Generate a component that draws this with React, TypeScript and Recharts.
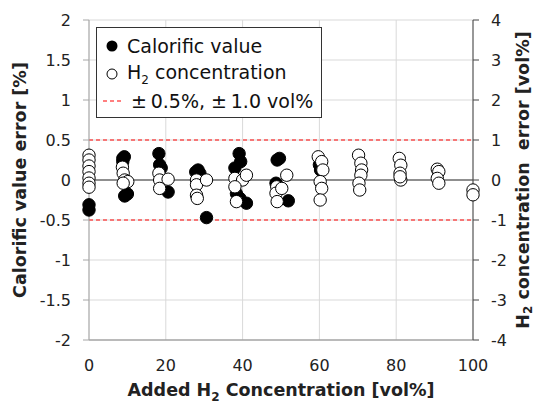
import React from "react"
import {
  ScatterChart,
  Scatter,
  XAxis,
  YAxis,
  CartesianGrid,
  ReferenceLine,
} from "recharts"

// Added H2 concentration [vol%] and calorific value error [%]
const calorificX = [0, 0, 8.8, 9.2, 8.8, 9.3, 10, 18.2, 18.4, 18.8, 20.6, 28.4, 28.9, 27.8, 30.6, 39.1, 39.5, 38, 38.4, 39.3, 41, 49, 49.6, 48.7, 49, 51.9, 60, 60.3]
const calorificY = [-0.31, -0.375, 0.27, 0.29, 0.23, -0.2, -0.175, 0.33, 0.19, 0.15, -0.15, 0.125, 0.08, 0.1, -0.47, 0.33, 0.23, 0.15, -0.17, -0.23, -0.29, 0.25, 0.27, -0.04, -0.07, -0.26, 0.19, 0.125]

// Added H2 concentration [vol%] and H2 concentration error [vol%]
const h2X = [0, 0, 0, 0, 0, 0, 0, 8.7, 8.9, 9.3, 10.1, 8.9, 18.2, 18.4, 20.6, 18.4, 28, 28, 28, 28.2, 30.6, 38, 40, 41, 38, 38.4, 48.9, 48.7, 49, 51.5, 50.2, 59.7, 60.6, 60.9, 60.2, 60.6, 60.2, 70.2, 70.8, 71, 70.8, 70.3, 70.5, 80.8, 81.2, 81, 81.2, 81, 90.7, 91.1, 90.7, 91.1, 100, 100]
const h2Y = [0.62, 0.5, 0.35, 0.21, 0.05, -0.08, -0.18, 0.32, 0.17, 0, -0.04, -0.08, 0.17, 0, 0.02, -0.21, 0, -0.12, -0.38, -0.46, 0, 0.04, 0, 0.12, -0.17, -0.54, -0.17, -0.33, -0.54, 0.12, -0.21, 0.58, 0.46, 0.25, -0.04, -0.21, -0.5, 0.62, 0.42, 0.25, 0.12, -0.08, -0.25, 0.54, 0.37, 0.17, 0, 0.08, 0.27, 0.21, 0.04, -0.08, -0.25, -0.37]

const xTicks = [0, 20, 40, 60, 80, 100]
const leftTicks = [-2, -1.5, -1, -0.5, 0, 0.5, 1, 1.5, 2]
const rightTicks = [-4, -3, -2, -1, 0, 1, 2, 3, 4]
const calorificLimit = 0.5

const font = "'DejaVu Sans', sans-serif"
const tickStyle = { fill: "#222", fontSize: 16, fontFamily: font }
const titleSize = 17.5

const calorificData = calorificX.map((x, i) => ({ x, y: calorificY[i] }))
const h2Data = h2X.map((x, i) => ({ x, y: h2Y[i] }))

const FilledDot = (props: any) => (
  <circle cx={props.cx} cy={props.cy} r={6.2} fill="#000" stroke="#000" strokeWidth={1} />
)
const OpenDot = (props: any) => (
  <circle cx={props.cx} cy={props.cy} r={6.2} fill="#fff" stroke="#000" strokeWidth={1} />
)

export default function App() {
  return (
    <div style={{ position: "absolute", left: 0, top: 0, width: 539, height: 407, background: "#fff", fontFamily: font }}>
      <ScatterChart width={539} height={407} margin={{ top: 20, right: 0, bottom: 0, left: 0 }}>
        <CartesianGrid stroke="#d9d9d9" xAxisId="x" yAxisId="left" />
        <XAxis
          xAxisId="x"
          type="number"
          dataKey="x"
          domain={[0, 100]}
          ticks={xTicks}
          height={67}
          tickLine={false}
          axisLine={{ stroke: "#888" }}
          tickMargin={14}
          tick={tickStyle}
          label={{
            content: () => (
              <text x={281} y={396} textAnchor="middle" fontSize={titleSize} fontWeight="bold" fill="#222" fontFamily={font}>
                <tspan>Added H</tspan>
                <tspan dy={5} fontSize={12}>2</tspan>
                <tspan dy={-5}> Concentration [vol%]</tspan>
              </text>
            ),
          }}
        />
        <YAxis
          yAxisId="left"
          type="number"
          dataKey="y"
          domain={[-2, 2]}
          ticks={leftTicks}
          width={89}
          axisLine={{ stroke: "#a6a6a6" }}
          tickLine={{ stroke: "#a6a6a6" }}
          tickMargin={12}
          tick={tickStyle}
          tickFormatter={(v) => String(v)}
          label={{
            content: () => (
              <text
                x={20}
                y={180}
                transform="rotate(-90 20 180)"
                textAnchor="middle"
                dominantBaseline="central"
                fontSize={titleSize}
                fontWeight="bold"
                fill="#222"
                fontFamily={font}
              >
                Calorific value error [%]
              </text>
            ),
          }}
        />
        <YAxis
          yAxisId="right"
          orientation="right"
          type="number"
          dataKey="y"
          domain={[-4, 4]}
          ticks={rightTicks}
          width={66}
          axisLine={{ stroke: "#444" }}
          tickLine={{ stroke: "#444" }}
          tickMargin={12}
          tick={tickStyle}
          label={{
            content: () => (
              <text
                x={523}
                y={180}
                transform="rotate(-90 523 180)"
                textAnchor="middle"
                dominantBaseline="central"
                fontSize={titleSize}
                fontWeight="bold"
                fill="#222"
                fontFamily={font}
                style={{ whiteSpace: "pre" }}
              >
                <tspan>H</tspan>
                <tspan dy={5} fontSize={12}>2</tspan>
                <tspan dy={-5}>{" concentration  error [vol%]"}</tspan>
              </text>
            ),
          }}
        />
        <ReferenceLine xAxisId="x" yAxisId="left" y={0} stroke="#333" strokeWidth={1} />
        <ReferenceLine xAxisId="x" yAxisId="left" y={calorificLimit} stroke="#ff0000" strokeDasharray="4 3" strokeWidth={1.2} />
        <ReferenceLine xAxisId="x" yAxisId="left" y={-calorificLimit} stroke="#ff0000" strokeDasharray="4 3" strokeWidth={1.2} />
        <Scatter
          name="Calorific value"
          xAxisId="x"
          yAxisId="left"
          data={calorificData}
          shape={FilledDot}
          isAnimationActive={false}
        />
        <Scatter
          name="H2 concentration"
          xAxisId="x"
          yAxisId="right"
          data={h2Data}
          shape={OpenDot}
          isAnimationActive={false}
        />
      </ScatterChart>
      <div
        style={{
          position: "absolute",
          left: 96,
          top: 27,
          width: 226,
          height: 91,
          border: "1px solid #333",
          background: "#fff",
          fontSize: 19,
          color: "#111",
          boxSizing: "border-box",
        }}
      >
        <div style={{ position: "absolute", left: 8, top: 6, display: "flex", alignItems: "center", height: 24 }}>
          <svg width={14} height={14}>
            <circle cx={7} cy={7} r={5.5} fill="#000" />
          </svg>
          <span style={{ marginLeft: 8 }}>Calorific value</span>
        </div>
        <div style={{ position: "absolute", left: 8, top: 34, display: "flex", alignItems: "center", height: 24 }}>
          <svg width={14} height={14}>
            <circle cx={7} cy={7} r={5} fill="#fff" stroke="#000" strokeWidth={1} />
          </svg>
          <span style={{ marginLeft: 8 }}>
            H<sub style={{ fontSize: 12 }}>2</sub> concentration
          </span>
        </div>
        <div style={{ position: "absolute", left: 6, top: 61, display: "flex", alignItems: "center", height: 24 }}>
          <svg width={18} height={10}>
            <line x1={0} y1={5} x2={18} y2={5} stroke="#ff0000" strokeWidth={1.2} strokeDasharray="4 3" />
          </svg>
          <span style={{ marginLeft: 10 }}>±&thinsp;0.5%, ±&thinsp;1.0 vol%</span>
        </div>
      </div>
    </div>
  )
}
